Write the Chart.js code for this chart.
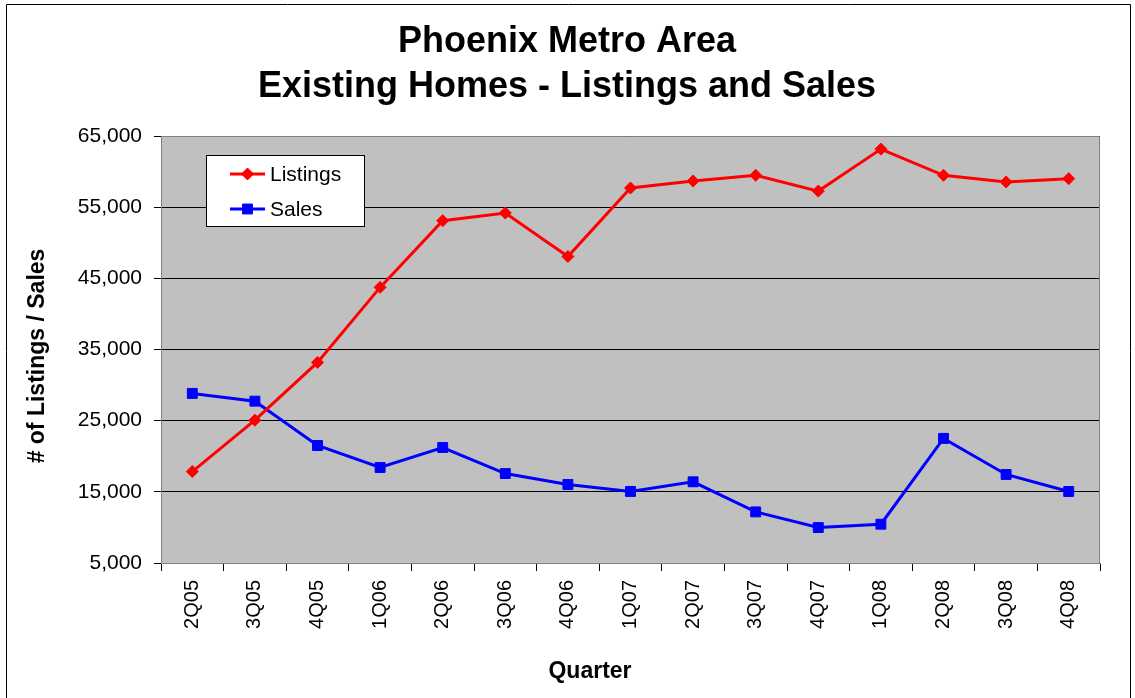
<!DOCTYPE html>
<html><head><meta charset="utf-8">
<script src="https://cdn.jsdelivr.net/npm/chart.js@4.4.1/dist/chart.umd.min.js"></script>
<style>html,body{margin:0;padding:0;background:#fff;overflow:hidden}#wrap{width:1135px;height:698px;position:relative}</style>
</head><body><div id="wrap"><canvas id="c" width="1135" height="698"></canvas></div>
<script>
const quarters = ['2Q05','3Q05','4Q05','1Q06','2Q06','3Q06','4Q06','1Q07','2Q07','3Q07','4Q07','1Q08','2Q08','3Q08','4Q08'];
const listings = [17850, 25070, 33190, 43730, 53100, 54180, 48070, 57690, 58680, 59480, 57260, 63160, 59480, 58540, 59010];
const sales = [28830, 27740, 21510, 18420, 21230, 17570, 16030, 15050, 16410, 12180, 9980, 10450, 22510, 17440, 15050];
const titleLines = ['Phoenix Metro Area', 'Existing Homes - Listings and Sales'];
const yTitle = '# of Listings / Sales';
const xTitle = 'Quarter';
const yMin = 5000, yMax = 65000, yStep = 10000;

const FONT = '"Liberation Sans", Arial, sans-serif';

const decor = {
  id: 'decor',
  beforeDraw(chart) {
    const ctx = chart.ctx, a = chart.chartArea;
    ctx.save();
    ctx.fillStyle = '#fff';
    ctx.fillRect(0, 0, chart.width, chart.height);
    ctx.fillStyle = '#C0C0C0';
    ctx.fillRect(a.left, a.top, a.right - a.left, a.bottom - a.top);
    ctx.strokeStyle = '#000';
    ctx.lineWidth = 1;
    ctx.beginPath();
    ctx.moveTo(6.5, 700); ctx.lineTo(6.5, 4.5); ctx.lineTo(1130.5, 4.5); ctx.lineTo(1130.5, 700);
    ctx.stroke();
    ctx.restore();
  },
  beforeDatasetsDraw(chart) {
    const ctx = chart.ctx, a = chart.chartArea;
    ctx.save();
    ctx.strokeStyle = '#808080';
    ctx.lineWidth = 1;
    ctx.beginPath();
    ctx.moveTo(a.left, a.top + 0.5); ctx.lineTo(a.right - 0.5, a.top + 0.5); ctx.lineTo(a.right - 0.5, a.bottom);
    ctx.stroke();
    ctx.restore();
  },
  afterDraw(chart) {
    const ctx = chart.ctx;
    ctx.save();
    ctx.fillStyle = '#000';
    ctx.textAlign = 'center';
    ctx.textBaseline = 'alphabetic';
    ctx.font = 'bold 36px ' + FONT;
    ctx.save(); ctx.translate(567, 52); ctx.scale(1, 1.04); ctx.fillText(titleLines[0], 0, 0); ctx.restore();
    ctx.save(); ctx.translate(567, 97); ctx.scale(1, 1.04); ctx.fillText(titleLines[1], 0, 0); ctx.restore();
    ctx.font = 'bold 23px ' + FONT;
    ctx.fillText(xTitle, 590, 678);
    ctx.textBaseline = 'middle';
    ctx.translate(38, 356);
    ctx.rotate(-Math.PI / 2);
    ctx.fillText(yTitle, 0, 0);
    ctx.restore();

    // legend
    const lx = 206.5, ly = 155.5, lw = 158, lh = 71;
    ctx.save();
    ctx.fillStyle = '#fff';
    ctx.fillRect(lx, ly, lw, lh);
    ctx.strokeStyle = '#000';
    ctx.lineWidth = 1;
    ctx.strokeRect(lx, ly, lw, lh);
    const rows = [174, 209];
    chart.data.datasets.forEach((ds, i) => {
      const y = rows[i];
      ctx.strokeStyle = ds.borderColor;
      ctx.lineWidth = 3;
      ctx.beginPath(); ctx.moveTo(230, y); ctx.lineTo(265, y); ctx.stroke();
      ctx.fillStyle = ds.pointBackgroundColor;
      ctx.strokeStyle = ds.pointBorderColor;
      ctx.lineWidth = 1;
      Chart.helpers.drawPoint(ctx, {pointStyle: ds.pointStyle, radius: ds.pointRadius, borderWidth: 1, rotation: 0}, 247.5, y);
      ctx.fillStyle = '#000';
      ctx.font = '21px ' + FONT;
      ctx.textAlign = 'left';
      ctx.textBaseline = 'middle';
      ctx.fillText(ds.label, 270, y + 1);
    });
    ctx.restore();
  }
};

const chart = new Chart(document.getElementById('c'), {
  type: 'line',
  data: {
    labels: quarters,
    datasets: [
      {label: 'Listings', data: listings, borderColor: '#FF0000', backgroundColor: '#FF0000',
       pointBackgroundColor: '#FF0000', pointBorderColor: '#FF0000', borderWidth: 3,
       pointStyle: 'rectRot', pointRadius: 6, pointBorderWidth: 1, tension: 0},
      {label: 'Sales', data: sales, borderColor: '#0000FF', backgroundColor: '#0000FF',
       pointBackgroundColor: '#0000FF', pointBorderColor: '#0000FF', borderWidth: 3,
       pointStyle: 'rect', pointRadius: 7, pointBorderWidth: 1, tension: 0}
    ]
  },
  options: {
    responsive: false,
    animation: false,
    devicePixelRatio: 1,
    layout: {padding: {left: 8, right: 35, top: 136, bottom: 0}},
    plugins: {legend: {display: false}, title: {display: false}, tooltip: {enabled: false}},
    scales: {
      x: {
        type: 'category',
        offset: true,
        afterFit(s) { s.height = 135; },
        grid: {offset: true, drawOnChartArea: false, drawTicks: true, tickLength: 8, color: '#000', lineWidth: 1},
        border: {display: true, color: '#808080', width: 1},
        ticks: {autoSkip: false, minRotation: 90, maxRotation: 90, padding: 9, color: '#000', font: {family: FONT, size: 20}}
      },
      y: {
        min: yMin, max: yMax,
        afterFit(s) { s.width = 153; },
        grid: {color: '#000', lineWidth: 1, drawTicks: true, tickLength: 7},
        border: {display: true, color: '#808080', width: 1},
        ticks: {stepSize: yStep, padding: 12, color: '#000', font: {family: FONT, size: 21},
                callback: v => v.toLocaleString('en-US')}
      }
    }
  },
  plugins: [decor]
});
</script>
</body></html>
